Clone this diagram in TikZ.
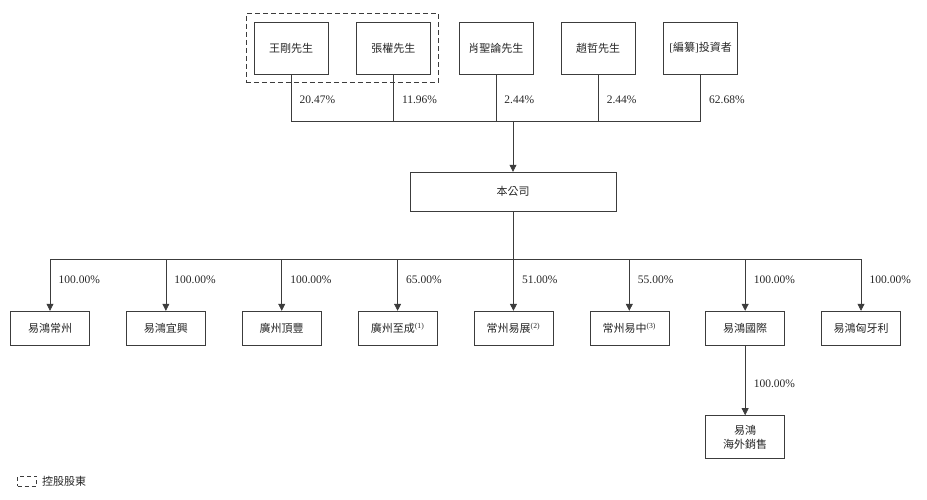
\documentclass[tikz,border=0pt]{standalone}
\usepackage{fontspec}
\setmainfont{Liberation Serif}
\newfontfamily\cjk{Noto Sans CJK TC}
\usepackage{tikz}
\usetikzlibrary{arrows.meta,positioning,fit}
\definecolor{linegray}{RGB}{60,60,60}

\tikzset{
  holder/.style={draw=linegray,minimum width=74pt,minimum height=52pt,
                 inner sep=0pt,font=\cjk\fontsize{11}{13}\selectfont},
  entity/.style={draw=linegray,minimum width=79pt,minimum height=34pt,
                 inner sep=0pt,align=center,font=\cjk\fontsize{11}{14}\selectfont},
  pct/.style={anchor=west,xshift=5pt,font=\fontsize{11.5}{13}\selectfont},
  link/.style={draw=linegray,line width=0.6pt},
  arr/.style={link,-{Triangle[length=7pt,width=7pt]}},
  groupbox/.style={draw=linegray,dashed,dash pattern=on 5pt off 3pt,line width=0.6pt}
}

\begin{document}
\begin{tikzpicture}[x=1pt,y=-1pt,text=black!85]
  \useasboundingbox (0,0) rectangle (927,500);

  % shareholders
  \node[holder] (wang) at (291,48) {王剛先生};
  \node[holder,right=28pt of wang] (zhang) {張權先生};
  \node[holder,right=28pt of zhang] (xiao) {肖聖論先生};
  \node[holder,right=28pt of xiao] (zhao) {趙哲先生};
  \node[holder,right=28pt of zhao] (inv) {{\rmfamily[}編纂{\rmfamily]}投資者};
  \node[groupbox,fit=(wang)(zhang),inner sep=8pt] (ctrl) {};

  \coordinate (topbus) at (513,121);
  \draw[link] (wang.south) -- (wang.south |- topbus) node[pct,pos=0.55] {20.47\%};
  \draw[link] (zhang.south) -- (zhang.south |- topbus) node[pct,pos=0.55] {11.96\%};
  \draw[link] (xiao.south) -- (xiao.south |- topbus) node[pct,pos=0.55] {2.44\%};
  \draw[link] (zhao.south) -- (zhao.south |- topbus) node[pct,pos=0.55] {2.44\%};
  \draw[link] (inv.south) -- (inv.south |- topbus) node[pct,pos=0.55] {62.68\%};
  \draw[link] (wang.south |- topbus) -- (inv.south |- topbus);

  % company
  \node[entity,minimum width=206pt,minimum height=39pt] (company) at (513,191.5) {本公司};
  \draw[arr] (topbus) -- (company.north);

  % subsidiaries
  \coordinate (botbus) at (513,259);
  \draw[link] (company.south) -- (botbus);
  \foreach \i/\txt/\share in {
    0/{易鴻常州}/100.00,
    1/{易鴻宜興}/100.00,
    2/{廣州頂豐}/100.00,
    3/{廣州至成{\rmfamily\textsuperscript{(1)}}}/65.00,
    4/{常州易展{\rmfamily\textsuperscript{(2)}}}/51.00,
    5/{常州易中{\rmfamily\textsuperscript{(3)}}}/55.00,
    6/{易鴻國際}/100.00,
    7/{易鴻匈牙利}/100.00}
  {
    \node[entity] (sub\i) at ({50+115.86*\i},328) {\txt};
    \draw[arr] (sub\i.north |- botbus) -- (sub\i.north) node[pct,pos=0.4] {\share\%};
  }
  \draw[link] (sub0.north |- botbus) -- (sub7.north |- botbus);

  \node[entity,minimum height=43pt,below=70pt of sub6] (overseas) {易鴻\\海外銷售};
  \draw[arr] (sub6.south) -- (overseas.north) node[pct,pos=0.55] {100.00\%};

  % legend
  \node[groupbox,dash pattern=on 4pt off 3pt,minimum width=19pt,minimum height=10pt,
        inner sep=0pt] (legbox) at (27,481) {};
  \node[right=5pt of legbox,inner sep=0pt,font=\cjk\fontsize{11}{13}\selectfont] (legtext) {控股股東};
\end{tikzpicture}
\end{document}
